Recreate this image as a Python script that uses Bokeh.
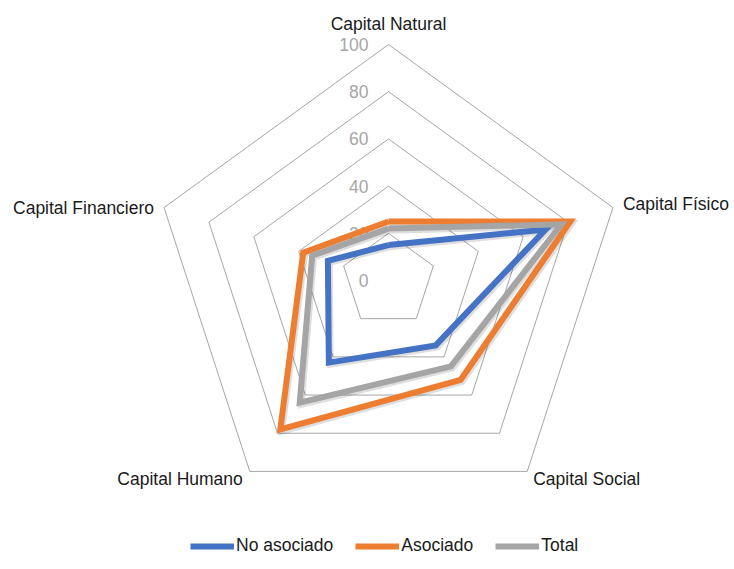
import numpy as np
from bokeh.plotting import figure
from bokeh.models import Range1d, Legend, LegendItem, ColumnDataSource
from bokeh.core.properties import value
from bokeh.embed import file_html
from bokeh.resources import INLINE

# ---- data ----
categories = ["Capital Natural", "Capital Físico", "Capital Social",
              "Capital Humano", "Capital Financiero"]
no_asociado = [15, 70, 34, 43, 27]
asociado = [25, 81, 52, 78, 38]
total = [22, 77, 45, 64, 34]
ticks = [0, 20, 40, 60, 80, 100]
series_names = ["No asociado", "Asociado", "Total"]

# ---- layout ----
W, H = 734, 569
PX = 2.36            # pixels per value unit
CX, CY = 388, 280    # centre in figure pixels (from left / top)
FONT_NAME = "Liberation Sans"
FONT = value(FONT_NAME)

p = figure(width=W, height=H, output_backend="svg", toolbar_location=None,
           x_range=Range1d(-CX / PX, (W - CX) / PX),
           y_range=Range1d(-(H - CY) / PX, CY / PX),
           x_axis_location=None, y_axis_location=None, min_border=0)
p.grid.visible = False
p.outline_line_color = None
p.background_fill_color = "white"

n = len(categories)
theta = np.pi / 2 - 2 * np.pi * np.arange(n) / n


def ring(vals):
    v = np.asarray(vals, dtype=float)
    xs = v * np.cos(theta)
    ys = v * np.sin(theta)
    return list(np.append(xs, xs[0])), list(np.append(ys, ys[0]))


# grid pentagons
for t in ticks[1:]:
    gx, gy = ring([t] * n)
    p.line(gx, gy, line_color="#8f8f8f", line_width=0.8)

# tick labels
tick_src = ColumnDataSource(dict(x=[-20 / PX] * len(ticks), y=ticks,
                                 t=[str(t) for t in ticks]))
p.text(x="x", y="y", text="t", source=tick_src, text_align="right",
       text_baseline="middle", text_font=FONT, text_font_size="17.5px",
       text_color="#a6a6a6")

# category labels
offs = [(0, 21, "center"), (10, 4, "left"), (6, -8, "left"),
        (-7, -8, "right"), (-10, 0, "right")]
vx, vy = ring([100] * n)
for i, c in enumerate(categories):
    dx, dy, al = offs[i]
    p.text(x=[vx[i] + dx / PX], y=[vy[i] + dy / PX], text=[c],
           text_align=al, text_baseline="middle", text_font=FONT,
           text_font_size="17.5px", text_color="#1a1a1a")

colors = ["#4472C4", "#ED7D31", "#A5A5A5"]
data = [no_asociado, asociado, total]

# soft shadows
for vals in data:
    sx, sy = ring(vals)
    p.line([x + 1.6 / PX for x in sx], [y - 1.8 / PX for y in sy],
           line_color="black", line_alpha=0.13, line_width=6.5,
           line_join="miter")

items = []
for name, vals, col in zip(series_names, data, colors):
    sx, sy = ring(vals)
    r = p.line(sx, sy, line_color=col, line_width=6, line_join="miter")
    items.append(LegendItem(label=name, renderers=[r]))

legend = Legend(items=items, orientation="horizontal", location=(190, 13),
                glyph_width=44, glyph_height=20, label_standoff=2, spacing=22,
                padding=0, border_line_color=None, background_fill_alpha=0,
                label_text_font=FONT_NAME, label_text_font_size="17.5px",
                label_text_color="#1a1a1a")
p.add_layout(legend, "center")

open("out.html", "w").write(file_html(p, INLINE))
